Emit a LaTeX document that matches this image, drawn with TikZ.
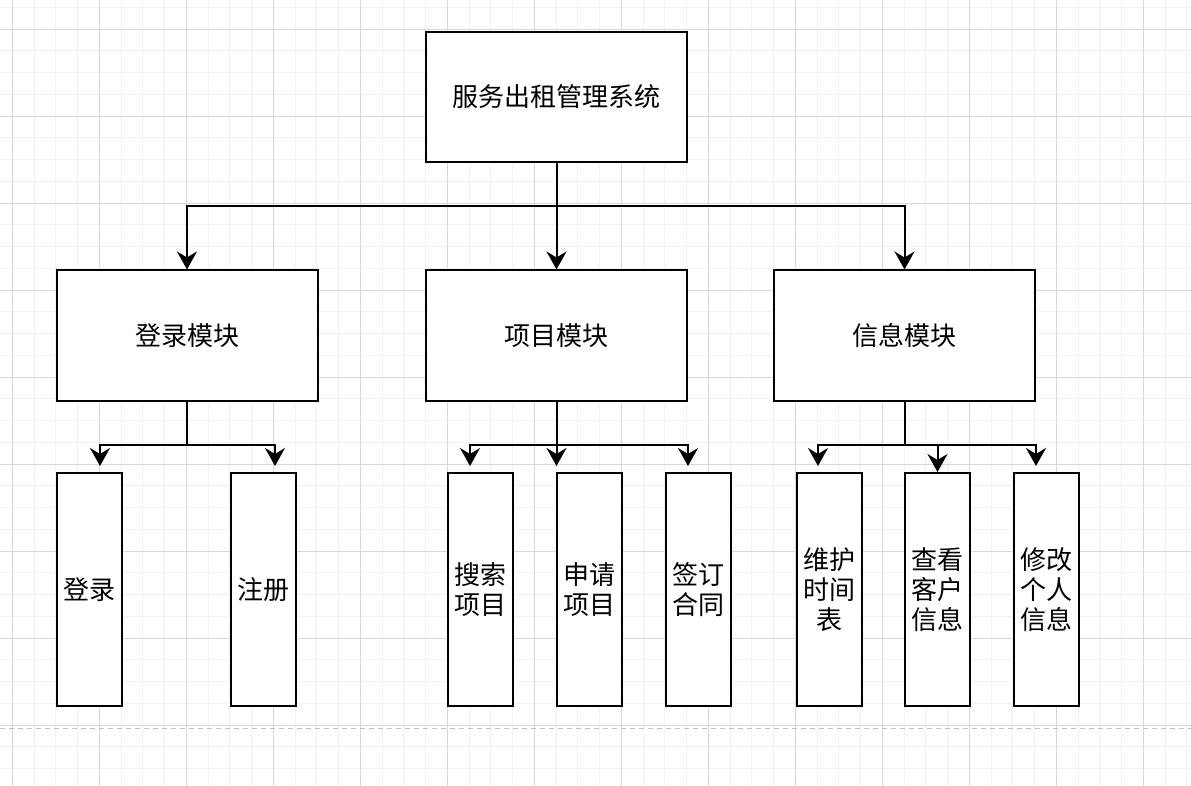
\documentclass[tikz,border=0pt]{standalone}
\usepackage{fontspec}
\newfontfamily\cjk{Noto Sans CJK SC}
\usetikzlibrary{arrows.meta}
\definecolor{gridminor}{HTML}{F2F2F2}
\definecolor{gridmajor}{HTML}{D8D8D8}
\definecolor{pagebreak}{HTML}{C0C0C0}
\tikzset{
  box/.style={draw=black, line width=2pt, fill=white, inner sep=0pt, align=center,
    font=\cjk\fontsize{26}{30}\selectfont},
  bigbox/.style={box, minimum width=261pt, minimum height=130pt},
  tallbox/.style={box, minimum width=65pt, minimum height=233pt},
  link/.style={draw=black, line width=2pt},
  arr/.style={link, -{Stealth[length=18pt, width=20pt, inset=6pt]}},
  gridmin/.style={draw=gridminor, line width=1pt},
  gridmaj/.style={draw=gridmajor, line width=1pt},
}
\begin{document}
\begin{tikzpicture}[x=1pt, y=-1pt]
\useasboundingbox (0,0) rectangle (1191,786);
\fill[white] (0,0) rectangle (1191,786);
% grid
\foreach \i in {0,...,56} {
  \draw[gridmin] ({12.3+(\i-1)*21.75},0) -- ({12.3+(\i-1)*21.75},786);
}
\foreach \i in {0,...,38} {
  \draw[gridmin] (0,{29.2+(\i-2)*21.75}) -- (1191,{29.2+(\i-2)*21.75});
}
\foreach \i in {0,...,14} {
  \draw[gridmaj] ({12.3+\i*87},0) -- ({12.3+\i*87},786);
}
\foreach \i in {0,...,9} {
  \draw[gridmaj] (0,{29.2+\i*87}) -- (1191,{29.2+\i*87});
}
% page break line
\draw[draw=pagebreak, line width=1pt, dash pattern=on 5pt off 4pt] (0,728.3) -- (1191,728.3);

% nodes
\node[bigbox] (top) at (556.5,97) {服务出租管理系统};
\node[bigbox] (m1) at (187,335.5) {登录模块};
\node[bigbox] (m2) at (556.5,335.5) {项目模块};
\node[bigbox] (m3) at (904.5,335.5) {信息模块};

\node[tallbox] (c1) at (89,589.5) {登录};
\node[tallbox] (c2) at (263,589.5) {注册};
\node[tallbox] (c3) at (480.5,589.5) {搜索\\项目};
\node[tallbox] (c4) at (589.5,589.5) {申请\\项目};
\node[tallbox] (c5) at (698.5,589.5) {签订\\合同};
\node[tallbox] (c6) at (829,589.5) {维护\\时间\\表};
\node[tallbox] (c7) at (937.5,589.5) {查看\\客户\\信息};
\node[tallbox] (c8) at (1046,589.5) {修改\\个人\\信息};

% junction coordinates
\coordinate (j1) at (556.5,206);
\coordinate (j2) at (187,445);
\coordinate (j3) at (556.5,445);
\coordinate (j4) at (904.5,445);
\coordinate (e1) at (100,466);
\coordinate (e2) at (275,466);
\coordinate (e3) at (470,466);
\coordinate (e4) at (556.5,466);
\coordinate (e5) at (688,466);
\coordinate (e6) at (818,466);
\coordinate (e8) at (1036,466);

% level 1 -> 2
\draw[arr] (top.south) -- (m2.north);
\draw[arr] (j1) -| (m1.north);
\draw[arr] (j1) -| (m3.north);

% 登录模块
\draw[link] (m1.south) -- (j2);
\draw[arr] (j2) -| (e1);
\draw[arr] (j2) -| (e2);

% 项目模块
\draw[arr] (m2.south) -- (e4);
\draw[arr] (j3) -| (e3);
\draw[arr] (j3) -| (e5);

% 信息模块
\draw[link] (m3.south) -- (j4);
\draw[arr] (j4) -| (e6);
\draw[arr] (j4) -| (c7.north);
\draw[arr] (j4) -| (e8);
\end{tikzpicture}
\end{document}
